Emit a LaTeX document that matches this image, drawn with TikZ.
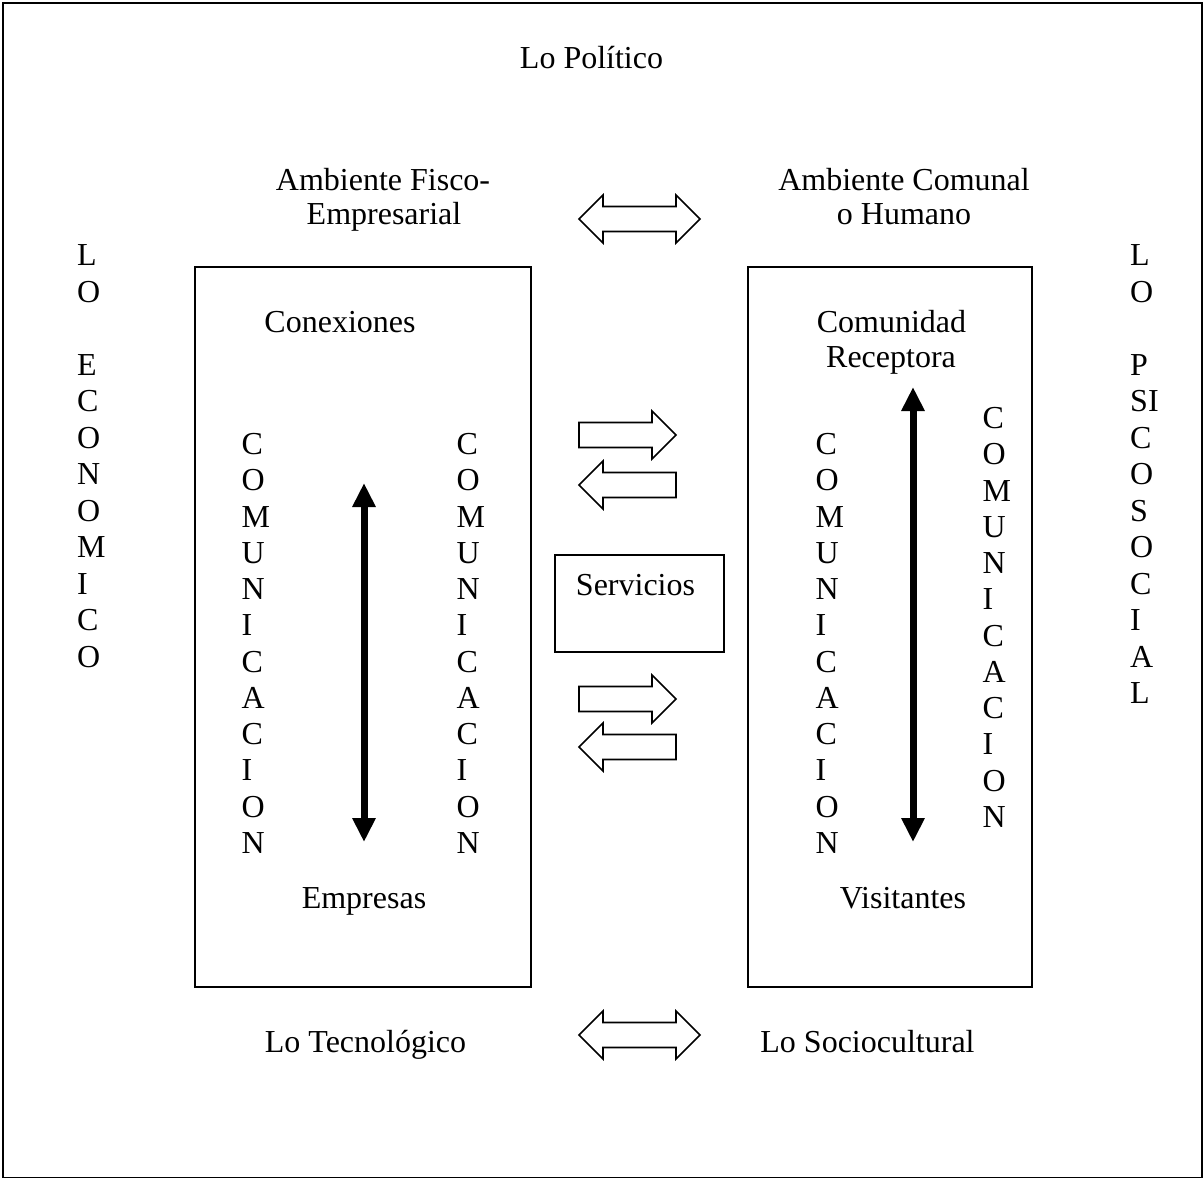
\documentclass[tikz,border=0pt]{standalone}
\usepackage{fontspec}
\setmainfont{Liberation Serif}
\usetikzlibrary{arrows.meta}

% hollow block arrows: #1 = left x, #2 = right x, #3 = axis y
\newcommand\rblock[3]{\draw[hollow] (#1,#3-12.5) -- (#2-24,#3-12.5) -- (#2-24,#3-24) -- (#2,#3) -- (#2-24,#3+24) -- (#2-24,#3+12.5) -- (#1,#3+12.5) -- cycle;}
\newcommand\lblock[3]{\draw[hollow] (#2,#3-12.5) -- (#1+24,#3-12.5) -- (#1+24,#3-24) -- (#1,#3) -- (#1+24,#3+24) -- (#1+24,#3+12.5) -- (#2,#3+12.5) -- cycle;}
\newcommand\dblock[3]{\draw[hollow] (#1+24,#3-12.5) -- (#2-24,#3-12.5) -- (#2-24,#3-24) -- (#2,#3) -- (#2-24,#3+24) -- (#2-24,#3+12.5) -- (#1+24,#3+12.5) -- (#1+24,#3+24) -- (#1,#3) -- (#1+24,#3-24) -- cycle;}

\begin{document}
\begin{tikzpicture}[x=1pt,y=-1pt,
  lbl/.style={font=\fontsize{32}{36.5}\selectfont, inner sep=0pt, anchor=base},
  letter/.style={font=\fontsize{32}{36.5}\selectfont, inner sep=0pt, anchor=base west},
  frame/.style={draw, line width=1.4pt},
  boxed/.style={draw, line width=1.4pt, inner sep=0pt},
  hollow/.style={draw, line width=1.6pt, fill=white, line join=miter},
  bigarrow/.style={line width=7pt, {Triangle[length=24pt,width=22pt]}-{Triangle[length=24pt,width=22pt]}}
]
\useasboundingbox (0,0) rectangle (1204,1179);
\fill[white] (0,0) rectangle (1204,1179);

% outer frame
\draw[frame] (3,3) rectangle (1202,1177.5);

% headings
\node[lbl] (pol) at (591.5,68) {Lo Político};
\node[lbl] (fis1) at (383,190) {Ambiente Fisco-};
\node[lbl] (fis2) at (384,224) {Empresarial};
\node[lbl] (com1) at (904,190) {Ambiente Comunal};
\node[lbl] (com2) at (904,224) {o Humano};
\node[lbl] (tec) at (365.5,1052) {Lo Tecnológico};
\node[lbl] (soc) at (867.5,1052) {Lo Sociocultural};

% side columns
\foreach \ch/\k in {L/0,O/1,E/3,C/4,O/5,N/6,O/7,M/8,I/9,C/10,O/11}
  \node[letter] (eco\k) at (77,265.5+36.5*\k) {\ch};
\foreach \ch/\k in {L/0,O/1,P/3,SI/4,C/5,O/6,S/7,O/8,C/9,I/10,A/11,L/12}
  \node[letter] (psi\k) at (1130,265.5+36.5*\k) {\ch};

% the two environment boxes
\node[boxed, minimum width=336pt, minimum height=720pt] (empbox) at (363,627) {};
\node[boxed, minimum width=284pt, minimum height=720pt] (combox) at (890,627) {};

\node[lbl] (conex) at (340,332) {Conexiones};
\node[lbl] (empr) at (364,908) {Empresas};
\node[lbl] (comun1) at (891.5,332) {Comunidad};
\node[lbl] (comun2) at (891,367) {Receptora};
\node[lbl] (visit) at (903,908) {Visitantes};

% COMUNICACION columns
\foreach \ch [count=\i from 0] in {C,O,M,U,N,I,C,A,C,I,O,N} {
  \node[letter] (ca\i) at (241.5,454.5+36.27*\i) {\ch};
  \node[letter] (cb\i) at (456.5,454.5+36.27*\i) {\ch};
  \node[letter] (cc\i) at (815.5,454.5+36.27*\i) {\ch};
  \node[letter] (cd\i) at (982.5,428.5+36.27*\i) {\ch};
}

% vertical two-way arrows inside the boxes
\coordinate (lat) at (364,483);
\coordinate (lab) at (364,842);
\coordinate (rat) at (913,387);
\coordinate (rab) at (913,842);
\draw[bigarrow] (lat) -- (lab);
\draw[bigarrow] (rat) -- (rab);

% services
\node[boxed, minimum width=169pt, minimum height=97pt] (servbox) at (639.5,603.5) {};
\node[lbl] (serv) at (635.5,595) {Servicios};

% block arrows between the boxes
\dblock{579}{700}{219}
\rblock{579}{676}{435}
\lblock{579}{676}{485}
\rblock{579}{676}{699}
\lblock{579}{676}{747}
\dblock{579}{700}{1035}
\end{tikzpicture}
\end{document}
